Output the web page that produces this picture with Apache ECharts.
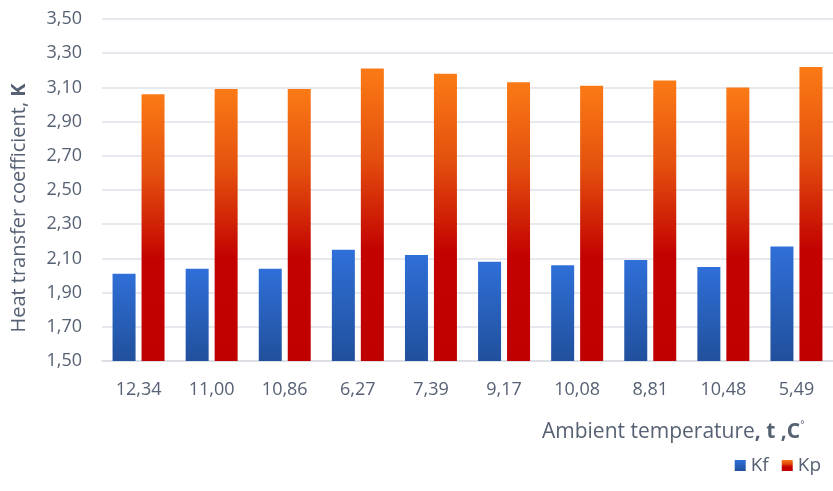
<!DOCTYPE html>
<html>
<head>
<meta charset="utf-8">
<script src="https://cdn.jsdelivr.net/npm/echarts@6/dist/echarts.min.js"></script>
<style>
html,body{margin:0;padding:0;background:#fff;}
#chart{width:833px;height:491px;}
</style>
</head>
<body>
<div id="chart"></div>
<script>
const categories = ['12,34','11,00','10,86','6,27','7,39','9,17','10,08','8,81','10,48','5,49'];
const kfValues = [2.01, 2.04, 2.04, 2.15, 2.12, 2.08, 2.06, 2.09, 2.05, 2.17];
const kpValues = [3.06, 3.09, 3.09, 3.21, 3.18, 3.13, 3.11, 3.14, 3.10, 3.22];
const yMin = 1.5, yMax = 3.5, yStep = 0.2;

const txt = '#566173';
const font = 'Open Sans';
const chart = echarts.init(document.getElementById('chart'), null, {renderer:'canvas'});
chart.setOption({
  animation: false,
  backgroundColor: '#ffffff',
  textStyle: { fontFamily: font },
  grid: { left: 102, top: 19, width: 739, height: 342 },
  legend: {
    right: 7, top: 451, icon: 'rect', itemWidth: 11, itemHeight: 11, itemGap: 13,
    textStyle: { color: txt, fontSize: 19, fontFamily: font },
    data: ['Kf','Kp']
  },
  xAxis: {
    type: 'category', data: categories,
    axisLine: { lineStyle: { color: '#d9dce3', width: 1.5 } },
    axisTick: { show: false },
    axisLabel: { color: txt, fontSize: 18, margin: 20, fontFamily: font }
  },
  yAxis: {
    type: 'value', min: yMin, max: yMax, interval: yStep,
    axisLine: { show: false }, axisTick: { show: false },
    splitLine: { lineStyle: { color: '#dfe2e9', width: 1.5 } },
    axisLabel: { color: txt, fontSize: 18, margin: 20, fontFamily: font,
      formatter: v => v.toFixed(2).replace('.', ',') }
  },
  graphic: [
    { type: 'text', x: 19, y: 208, rotation: Math.PI / 2,
      style: { text: 'Heat transfer coefficient, {b|K}', fill: txt, fontSize: 20, fontFamily: font,
        align: 'center', verticalAlign: 'middle',
        rich: { b: { fontWeight: 'bold', fontSize: 20, fill: txt, fontFamily: font } } } },
    { type: 'text', x: 542, y: 432,
      style: { text: 'Ambient temperature{b|, t ,C}{s|°}', fill: txt, fontSize: 21, fontFamily: font,
        align: 'left', verticalAlign: 'middle',
        rich: { b: { fontWeight: 'bold', fontSize: 21, fill: txt, fontFamily: font },
                s: { fontSize: 10, fill: txt, fontFamily: font, padding: [0,0,14,0] } } } }
  ],
  series: [
    { name: 'Kf', type: 'bar', data: kfValues, barWidth: 23, barGap: '26%',
      itemStyle: { color: new echarts.graphic.LinearGradient(0,0,0,1,[
        {offset:0,color:'#2f6fd8'},{offset:1,color:'#21509c'}]) } },
    { name: 'Kp', type: 'bar', data: kpValues, barWidth: 23, barGap: '26%',
      itemStyle: { color: new echarts.graphic.LinearGradient(0,0,0,1,[
        {offset:0,color:'#fb7a15'},{offset:0.3,color:'#e4500e'},{offset:0.62,color:'#c30200'},{offset:1,color:'#c00000'}]) } }
  ]
});
</script>
</body>
</html>
